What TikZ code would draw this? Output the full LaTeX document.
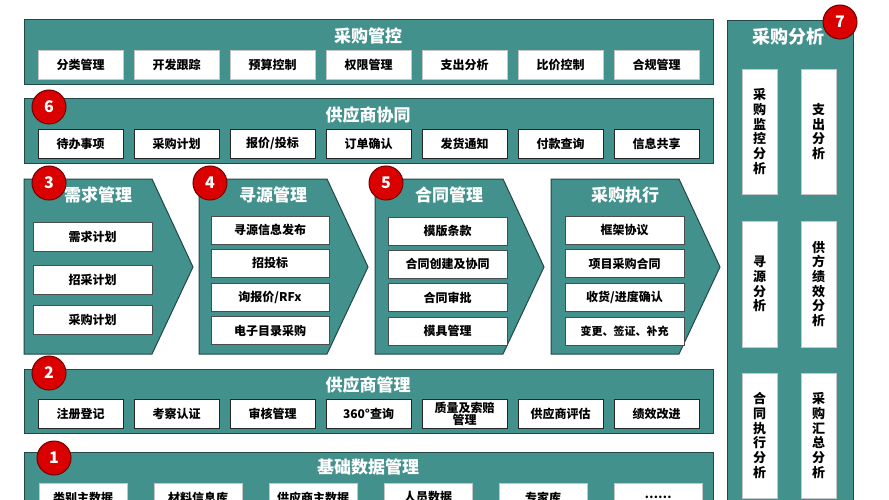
\documentclass[tikz,border=0pt]{standalone}
\usepackage{fontspec}
\setmainfont{Noto Sans CJK SC}
\definecolor{teal0}{RGB}{66,145,140}
\definecolor{tealline}{RGB}{34,72,70}
\definecolor{badgered}{RGB}{218,0,0}
\definecolor{badgeline}{RGB}{110,0,0}

\begin{document}
\begin{tikzpicture}[x=1pt,y=-1pt,
    band/.style={draw=tealline,fill=teal0,line width=1pt},
    title/.style={text=white,inner sep=0pt,font=\bfseries\fontsize{17}{19}\selectfont},
    item/.style={draw=gray!45,fill=white,line width=0.8pt,minimum width=85pt,minimum height=29pt,
      inner sep=1pt,align=center,font=\bfseries\fontsize{12}{13}\selectfont},
    itemk/.style={item,draw=black!85},
    vitem/.style={item,minimum width=35pt,minimum height=125pt,font=\bfseries\fontsize{13}{14.7}\selectfont},
    badge/.style={circle,draw=badgeline,fill=badgered,line width=1pt,minimum size=34pt,inner sep=0pt,
      text=white,font=\bfseries\fontsize{16}{16}\selectfont}]
  \useasboundingbox[fill=white] (0,0) rectangle (889,500);

  % 采购管控
  \draw[band] (24,20) rectangle (713,85);
  \node[title] (gk) at (368,36) {采购管控};
  \foreach \t [count=\i] in {分类管理,开发跟踪,预算控制,权限管理,支出分析,比价控制,合规管理}
    \node[item] (gk-\i) at ({80.5+96*(\i-1)},64.5) {\t};

  % 供应商协同
  \draw[band] (24,99) rectangle (713,164);
  \node[title] (xt) at (368,115) {供应商协同};
  \foreach \t [count=\i] in {待办事项,采购计划,报价/投标,订单确认,发货通知,付款查询,信息共享}
    \node[itemk] (xt-\i) at ({80.5+96*(\i-1)},143.5) {\t};

  % process arrows
  \foreach \l/\t [count=\i] in {24/需求管理,199/寻源管理,375/合同管理,551/采购执行}{
    \draw[band] (\l,179) -- ++(128,0) -- ++(41,88) -- ++(-41,87) -- ++(-128,0) -- cycle;
    \node[title] (lc-\i) at (\l+74,195) {\t};
  }
  \foreach \t/\y [count=\i] in {需求计划/236.5,招采计划/279.5,采购计划/320}
    \node[item,draw=black!70,minimum width=119pt] (xq-\i) at (92.5,\y) {\t};
  \foreach \t/\y [count=\i] in {寻源信息发布/230,招投标/263,{询报价/RFx}/297,电子目录采购/330.5}
    \node[item,draw=black!70,minimum width=118pt,minimum height=28pt] (xy-\i) at (270,\y) {\t};
  \foreach \t/\y [count=\i] in {模版条款/231,合同创建及协同/264,合同审批/297.5,模具管理/331}
    \node[item,draw=black!70,minimum width=119pt,minimum height=28pt] (ht-\i) at (447.5,\y) {\t};
  \foreach \t/\y [count=\i] in {框架协议/230,项目采购合同/263.5,{收货/进度确认}/297,
      {\fontsize{11}{12}\selectfont 变更、签证、补充}/331}
    \node[item,draw=black!70,minimum width=119pt,minimum height=28pt] (zx-\i) at (624.5,\y) {\t};

  % 供应商管理
  \draw[band] (24,369) rectangle (713,433);
  \node[title] (gl) at (368,385) {供应商管理};
  \foreach \t [count=\i] in {注册登记,考察认证,审核管理,360°查询,质量及索赔\\管理,供应商评估,绩效改进}
    \node[itemk,font=\bfseries\fontsize{12}{12}\selectfont] (gl-\i) at ({80.5+96*(\i-1)},414) {\t};

  % 基础数据管理
  \draw[band] (24,452) rectangle (713,520);
  \node[title] (sj) at (368,467) {基础数据管理};
  \foreach \t [count=\i] in {类别主数据,材料信息库,供应商主数据,人员数据,专家库,{\dots\dots}}
    \node[item,minimum width=88pt] (sj-\i) at ({83+115*(\i-1)},497.5) {\t};

  % 采购分析
  \draw[band] (727,21) rectangle (853,520);
  \node[title,font=\bfseries\fontsize{18}{20}\selectfont] (fx) at (788,37) {采购分析};
  \node[vitem] (fx-1) at (759.5,131.5) {采\\购\\监\\控\\分\\析};
  \node[vitem] (fx-2) at (818.5,131.5) {支\\出\\分\\析};
  \node[vitem,minimum height=126pt] (fx-3) at (759.5,284) {寻\\源\\分\\析};
  \node[vitem,minimum height=126pt] (fx-4) at (818.5,284) {供\\方\\绩\\效\\分\\析};
  \node[vitem] (fx-5) at (759.5,435.5) {合\\同\\执\\行\\分\\析};
  \node[vitem] (fx-6) at (818.5,435.5) {采\\购\\汇\\总\\分\\析};

  % badges
  \foreach \n/\x/\y in {1/54/458,2/49/373,3/49/183,4/210/183,5/386/183,6/49/107,7/840/22}
    \node[badge] (b-\n) at (\x,\y) {\n};
\end{tikzpicture}
\end{document}
